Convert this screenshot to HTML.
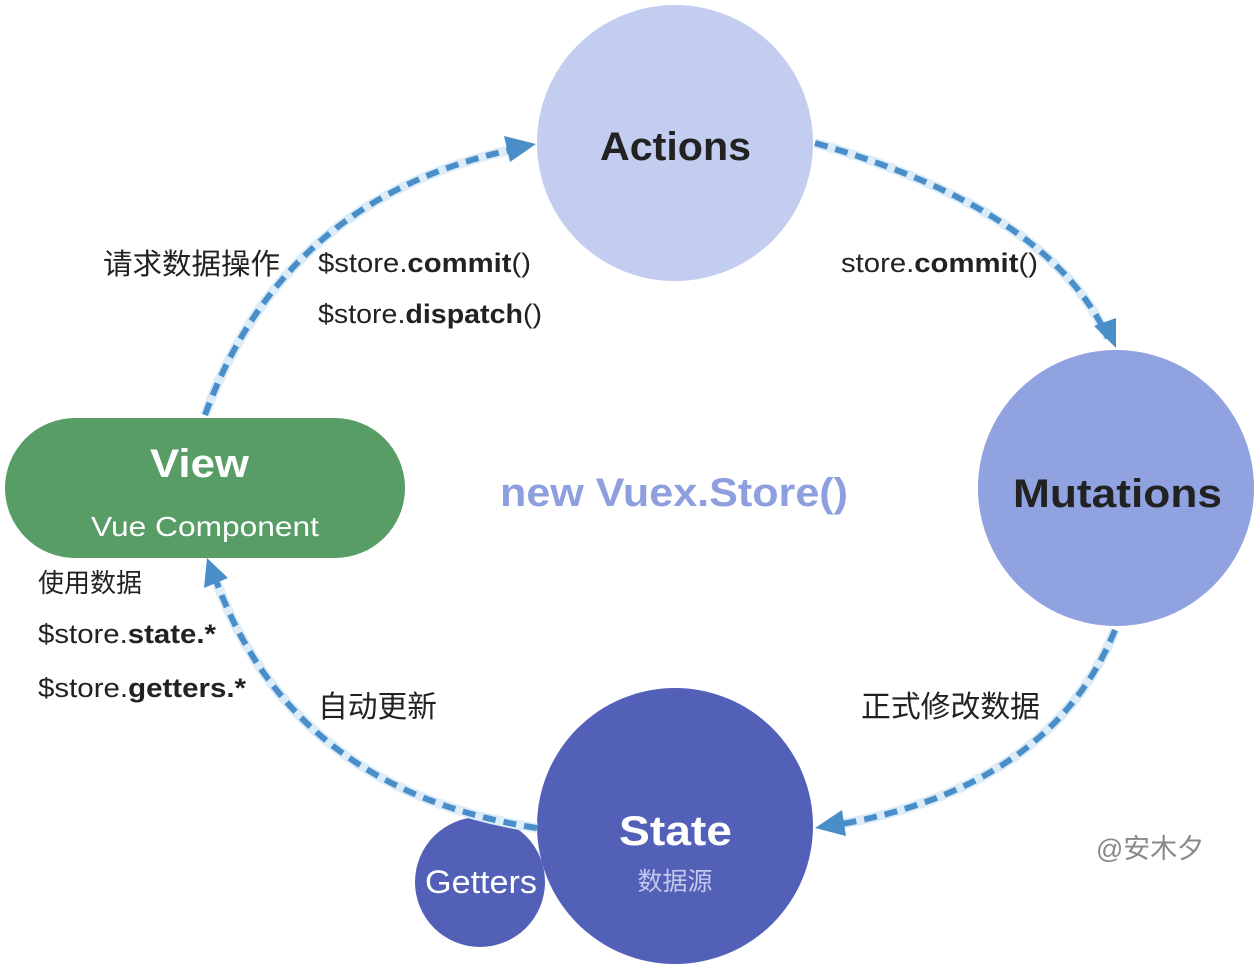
<!DOCTYPE html>
<html><head><meta charset="utf-8"><style>
html,body{margin:0;padding:0;background:#fff;}
svg{display:block;}
text{font-family:"Liberation Sans","Noto Sans CJK SC",sans-serif;}
</style></head><body>
<svg width="1260" height="970" viewBox="0 0 1260 970" xmlns="http://www.w3.org/2000/svg">
<circle cx="675" cy="143" r="138" fill="#c2cdf0"/>
<circle cx="1116" cy="488" r="138" fill="#90a3e0"/>
<circle cx="675" cy="826" r="138" fill="#5360b8"/>
<circle cx="480" cy="882" r="65" fill="#5360b8"/>
<rect x="5" y="418" width="400" height="140" rx="70" fill="#579d65"/>

<g fill="none" stroke-linecap="butt">
<path d="M205 415 Q285 195 520 148" stroke="#dcecf8" stroke-width="10"/>
<path d="M205 415 Q285 195 520 148" stroke="#4a8ec9" stroke-width="6" stroke-dasharray="13 8"/>
<path d="M815 143 Q1050 210 1108 338" stroke="#dcecf8" stroke-width="10"/>
<path d="M815 143 Q1050 210 1108 338" stroke="#4a8ec9" stroke-width="6" stroke-dasharray="13 8"/>
<path d="M1115 630 Q1050 790 830 826" stroke="#dcecf8" stroke-width="10"/>
<path d="M1115 630 Q1050 790 830 826" stroke="#4a8ec9" stroke-width="6" stroke-dasharray="13 8"/>
<path d="M537 828 Q290 790 214 575" stroke="#dcecf8" stroke-width="10"/>
<path d="M537 828 Q290 790 214 575" stroke="#4a8ec9" stroke-width="6" stroke-dasharray="13 8"/>
</g>
<g fill="#4a8ec9">
<polygon points="536,144 504,136 510,162"/>
<polygon points="1116,348 1094,326 1116,318"/>
<polygon points="815,828 842,810 846,836"/>
<polygon points="207,558 204,588 228,578"/>
</g>

<text x="600" y="160" textLength="151" lengthAdjust="spacingAndGlyphs" font-size="40" font-weight="bold" fill="#222">Actions</text>
<text x="1013" y="507" textLength="209" lengthAdjust="spacingAndGlyphs" font-size="40" font-weight="bold" fill="#222">Mutations</text>
<text x="619" y="845" textLength="113" lengthAdjust="spacingAndGlyphs" font-size="42" font-weight="bold" fill="#fff">State</text>
<text x="675" y="890" text-anchor="middle" font-size="25" fill="#c3c8ec">数据源</text>
<text x="425" y="893" textLength="112" lengthAdjust="spacingAndGlyphs" font-size="32" fill="#fff">Getters</text>
<text x="150" y="477" textLength="99" lengthAdjust="spacingAndGlyphs" font-size="40" font-weight="bold" fill="#fff">View</text>
<text x="91" y="536" textLength="228" lengthAdjust="spacingAndGlyphs" font-size="28" fill="#fff">Vue Component</text>
<text x="500" y="506" textLength="348" lengthAdjust="spacingAndGlyphs" font-size="40" font-weight="bold" fill="#8e9fe0">new Vuex.Store()</text>

<g font-size="26" fill="#222">
<text x="103" y="274" font-size="29" textLength="177" lengthAdjust="spacingAndGlyphs">请求数据操作</text>
<text x="318" y="272" font-size="27" textLength="213" lengthAdjust="spacingAndGlyphs">$store.<tspan font-weight="bold">commit</tspan>()</text>
<text x="318" y="323" font-size="27" textLength="224" lengthAdjust="spacingAndGlyphs">$store.<tspan font-weight="bold">dispatch</tspan>()</text>
<text x="841" y="272" font-size="27" textLength="197" lengthAdjust="spacingAndGlyphs">store.<tspan font-weight="bold">commit</tspan>()</text>
<text x="38" y="592" font-size="26" textLength="104" lengthAdjust="spacingAndGlyphs">使用数据</text>
<text x="38" y="643" font-size="27" textLength="178" lengthAdjust="spacingAndGlyphs">$store.<tspan font-weight="bold">state.*</tspan></text>
<text x="38" y="697" font-size="27" textLength="208" lengthAdjust="spacingAndGlyphs">$store.<tspan font-weight="bold">getters.*</tspan></text>
<text x="318" y="717" font-size="30" textLength="119" lengthAdjust="spacingAndGlyphs">自动更新</text>
<text x="861" y="717" font-size="30" textLength="179" lengthAdjust="spacingAndGlyphs">正式修改数据</text>
</g>
<text x="1096" y="858" font-size="27" textLength="108" lengthAdjust="spacingAndGlyphs" fill="#888">@安木夕</text>
</svg>
</body></html>
